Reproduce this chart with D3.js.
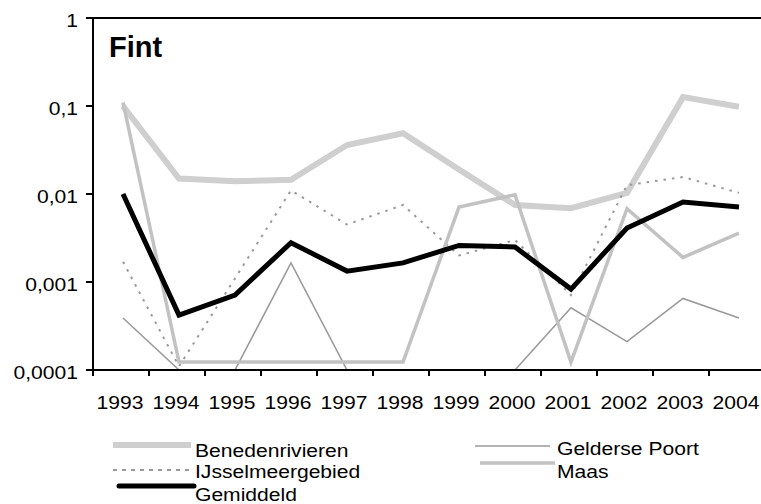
<!DOCTYPE html>
<html>
<head>
<meta charset="utf-8">
<script src="https://cdnjs.cloudflare.com/ajax/libs/d3/7.8.5/d3.min.js"></script>
<style>
  body { margin: 0; background: #fff; }
  text { font-family: "Liberation Sans", Arial, sans-serif; fill: #000; }
</style>
</head>
<body>
<div id="chart"></div>
<script>
// Data
var years = ['1993','1994','1995','1996','1997','1998','1999','2000','2001','2002','2003','2004'];
var yTicks = [1, 0.1, 0.01, 0.001, 0.0001];
var benedenrivieren = [0.1, 0.015, 0.014, 0.0145, 0.036, 0.049, 0.019, 0.0075, 0.0069, 0.0103, 0.126, 0.098];
var geldersePoort = [0.00039, 0.0001, 0.0001, 0.00165, 0.0001, 0.0001, 0.0001, 0.0001, 0.00051, 0.00021, 0.00065, 0.00039];
var ijsselmeergebied = [0.0017, 0.00011, 0.0011, 0.011, 0.0045, 0.0075, 0.0020, 0.0030, 0.00071, 0.0126, 0.0156, 0.0103];
var maas = [0.11, 0.000123, 0.000123, 0.000123, 0.000123, 0.000123, 0.0071, 0.0098, 0.000123, 0.0068, 0.0019, 0.0036];
var gemiddeld = [0.0100, 0.00042, 0.00071, 0.0028, 0.00133, 0.00165, 0.0026, 0.0025, 0.00083, 0.0041, 0.0081, 0.0071];
var seriesNames = ['Benedenrivieren', 'Gelderse Poort', 'IJsselmeergebied', 'Maas', 'Gemiddeld'];

var utils = {
    translation: function (x,y) {return 'translate(' + x + ',' + y + ')';}
};

document.addEventListener('DOMContentLoaded', function(){
    var width = 761,
        height = 504;
    var left = 93, top = 18, right = 765, bottom = 370;
    var stretch = 1.14; // the labels in the picture are drawn a bit wide

    var svg = d3.select('#chart').append('svg')
        .attr('width', width)
        .attr('height', height);

    var x = d3.scaleBand().domain(years).range([left, right]);
    var y = d3.scaleLog().domain([0.0001, 1]).range([bottom, top]);
    var cx = function(i){ return x(years[i]) + x.bandwidth()/2 + 2; };

    var styles = {
        'Benedenrivieren':  {color: '#cfcfcf', w: 6,   dash: null},
        'Gelderse Poort':   {color: '#9a9a9a', w: 1.6, dash: null},
        'IJsselmeergebied': {color: '#999999', w: 2,   dash: '2.5,6'},
        'Maas':             {color: '#c2c2c2', w: 3.5, dash: null},
        'Gemiddeld':        {color: '#000000', w: 5,   dash: null}
    };
    var values = {
        'Benedenrivieren': benedenrivieren,
        'Gelderse Poort': geldersePoort,
        'IJsselmeergebied': ijsselmeergebied,
        'Maas': maas,
        'Gemiddeld': gemiddeld
    };

    var line = d3.line()
        .x(function(d,i){ return cx(i); })
        .y(function(d){ return y(d); });

    var plot = svg.append('g').attr('id','lines');
    seriesNames.forEach(function(name){
        var st = styles[name];
        plot.append('path')
            .datum(values[name])
            .attr('d', line)
            .attr('fill','none')
            .attr('stroke', st.color)
            .attr('stroke-width', st.w)
            .attr('stroke-dasharray', st.dash)
            .attr('stroke-linejoin', 'miter');
    });

    // frame: top border, left and bottom axes
    svg.append('line').attr('x1', left).attr('x2', right).attr('y1', top).attr('y2', top)
        .attr('stroke','#000').attr('stroke-width',2);

    var yAxis = svg.append('g').attr('transform', utils.translation(left, 0));
    yAxis.append('line').attr('x1',0).attr('x2',0).attr('y1',top).attr('y2',bottom)
        .attr('stroke','#000').attr('stroke-width',2);
    yTicks.forEach(function(t){
        yAxis.append('line').attr('x1',-7).attr('x2',0).attr('y1',y(t)).attr('y2',y(t))
            .attr('stroke','#000').attr('stroke-width',2);
        yAxis.append('text')
            .attr('transform', utils.translation(-15, y(t) + 8.5) + ' scale(' + stretch + ',1)')
            .attr('text-anchor','end')
            .style('font-size','18.5px')
            .text(String(t).replace('.', ','));
    });

    var xAxis = svg.append('g');
    xAxis.append('line').attr('x1',left).attr('x2',right).attr('y1',bottom).attr('y2',bottom)
        .attr('stroke','#000').attr('stroke-width',2);
    years.concat(['end']).forEach(function(yr){
        var tx = yr === 'end' ? right : x(yr);
        xAxis.append('line').attr('x1',tx).attr('x2',tx).attr('y1',bottom-1).attr('y2',bottom+6)
            .attr('stroke','#000').attr('stroke-width',2);
    });
    years.forEach(function(yr){
        xAxis.append('text')
            .attr('transform', utils.translation(x(yr) + x.bandwidth()/2 - 1, 409) + ' scale(' + stretch + ',1)')
            .attr('text-anchor','middle')
            .style('font-size','18.5px')
            .text(yr);
    });

    svg.append('text')
        .attr('x', 109).attr('y', 57)
        .style('font-size','29px')
        .style('font-weight','bold')
        .text('Fint');

    // legend
    var legendPos = {
        'Benedenrivieren':  {x1: 113, x2: 191, ly: 445, tx: 195, ty: 457},
        'IJsselmeergebied': {x1: 113, x2: 191, ly: 470, tx: 195, ty: 478},
        'Gemiddeld':        {x1: 119, x2: 194, ly: 486, tx: 195, ty: 501},
        'Gelderse Poort':   {x1: 475, x2: 550, ly: 446, tx: 557, ty: 455},
        'Maas':             {x1: 480, x2: 555, ly: 463, tx: 557, ty: 478}
    };
    var legend = svg.append('g').attr('id','legend');
    seriesNames.forEach(function(name){
        var p = legendPos[name], st = styles[name];
        legend.append('line')
            .attr('x1', p.x1).attr('x2', p.x2).attr('y1', p.ly).attr('y2', p.ly)
            .attr('stroke', st.color)
            .attr('stroke-width', st.w)
            .attr('stroke-dasharray', st.dash ? '4,5' : null)
            .attr('stroke-linecap', name === 'Gemiddeld' ? 'round' : 'butt');
        legend.append('text')
            .attr('transform', utils.translation(p.tx, p.ty) + ' scale(' + stretch + ',1)')
            .style('font-size','18.5px')
            .text(name);
    });
});
</script>
</body>
</html>
